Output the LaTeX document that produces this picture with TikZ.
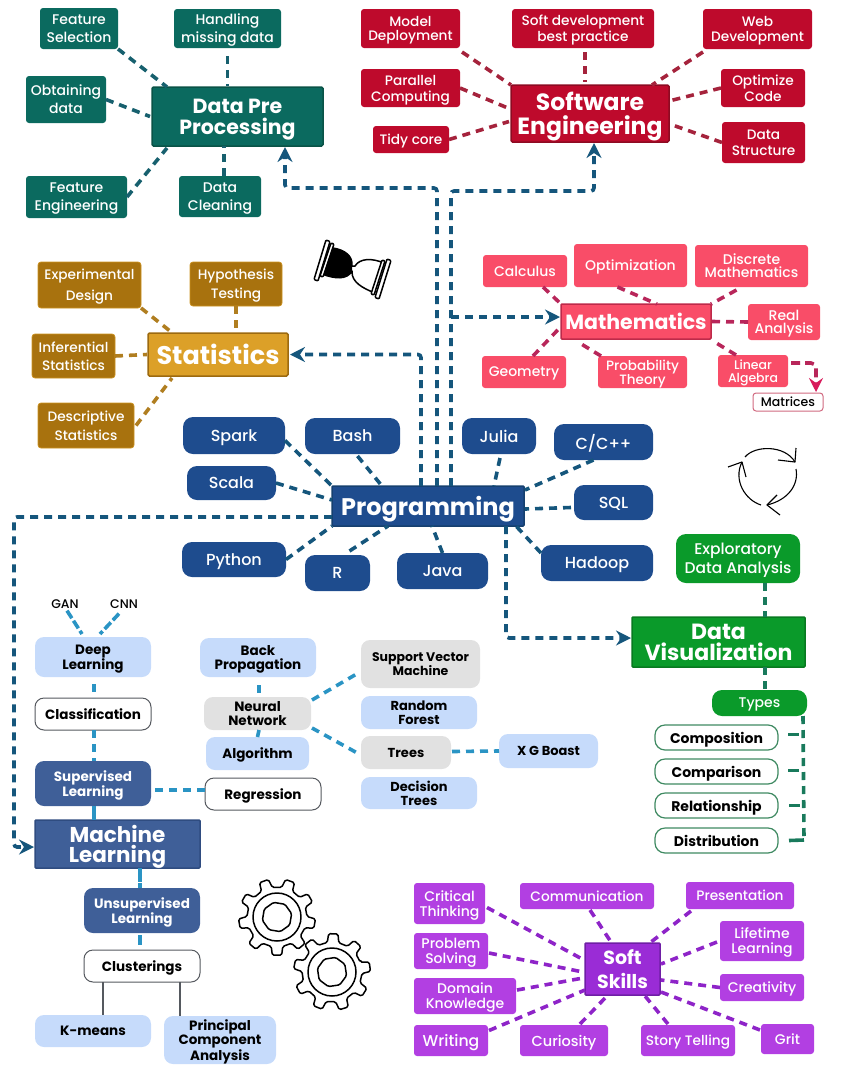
\documentclass[tikz,border=0pt]{standalone}
\usepackage{fontspec}
\setmainfont{Poppins Medium}[BoldFont=Poppins Bold]
\usetikzlibrary{arrows.meta,calc}
\definecolor{teal1}{HTML}{0B6A5F}\definecolor{teal2}{HTML}{0A5347}\definecolor{tealline}{HTML}{17606E}
\definecolor{red1}{HTML}{BE0A2C}\definecolor{red2}{HTML}{8E0A22}\definecolor{redline}{HTML}{A5233C}
\definecolor{gold1}{HTML}{DCA028}\definecolor{gold2}{HTML}{A8720E}\definecolor{gold3}{HTML}{9C6A10}\definecolor{goldline}{HTML}{B07E20}
\definecolor{pink1}{HTML}{F94D68}\definecolor{pink2}{HTML}{BE2A4A}\definecolor{pinkline}{HTML}{B8265A}\definecolor{pinkarrow}{HTML}{D81B5B}
\definecolor{navy1}{HTML}{1E4C8E}\definecolor{navy2}{HTML}{16406F}\definecolor{navyline}{HTML}{15567C}
\definecolor{green1}{HTML}{0A9A2A}\definecolor{green2}{HTML}{087A20}\definecolor{greenline}{HTML}{197A5C}\definecolor{greenring}{HTML}{3F8A62}
\definecolor{steel1}{HTML}{3F5F98}\definecolor{steel2}{HTML}{2F4C80}\definecolor{sky}{HTML}{C6DBFB}\definecolor{gray1}{HTML}{E1E1E1}\definecolor{skyline}{HTML}{2A94C4}\definecolor{ringgray}{HTML}{55595F}
\definecolor{purple1}{HTML}{B23FE2}\definecolor{purple2}{HTML}{9A2CD6}\definecolor{purple3}{HTML}{6F1FA5}\definecolor{purpleline}{HTML}{8E24C8}
\def\bxfont{}
\tikzset{
 ofs/.style args={#1,#2}{shift={(#1,#2)}},
 heavy/.code={\def\bxfont{\bfseries}},
 base/.style={inner sep=0pt,outer sep=0pt,align=center,text=white,text depth=-1pt},
 tealbox/.style={base,fill=teal1,rounded corners=3pt},
 tealmain/.style={base,heavy,fill=teal1,draw=teal2,line width=1.5pt,rounded corners=1.5pt},
 redbox/.style={base,fill=red1,rounded corners=3pt},
 redmain/.style={base,heavy,fill=red1,draw=red2,line width=1.5pt,rounded corners=1.5pt},
 goldbox/.style={base,fill=gold2,draw=gold1!70!gold2,line width=.7pt,rounded corners=3pt},
 goldmain/.style={base,heavy,fill=gold1,draw=gold3,line width=1.5pt,rounded corners=1.5pt},
 pinkbox/.style={base,fill=pink1,rounded corners=3pt},
 pinkmain/.style={base,heavy,fill=pink1,draw=pink2,line width=1.5pt,rounded corners=1pt},
 matrixbox/.style={base,fill=white,draw=pink2!70,line width=1pt,rounded corners=3pt,text=black},
 navybox/.style={base,fill=navy1,rounded corners=10pt},
 navymain/.style={base,heavy,fill=navy1,draw=navy2,line width=1.5pt,rounded corners=1pt},
 greenbox/.style={base,fill=green1,rounded corners=10pt},
 greenmain/.style={base,heavy,fill=green1,draw=green2,line width=1.5pt,rounded corners=1pt},
 ringbox/.style={base,heavy,fill=white,draw=greenring,line width=1.2pt,rounded corners=10pt,text=black},
 steelbox/.style={base,heavy,fill=steel1,rounded corners=9pt},
 steelmain/.style={base,heavy,fill=steel1,draw=steel2,line width=1.5pt,rounded corners=1pt},
 skybox/.style={base,heavy,fill=sky,rounded corners=9pt,text=black},
 graybox/.style={base,heavy,fill=gray1,rounded corners=9pt,text=black},
 whitebox/.style={base,heavy,fill=white,draw=ringgray,line width=1pt,rounded corners=9pt,text=black},
 purplebox/.style={base,fill=purple1,rounded corners=3pt},
 purplemain/.style={base,heavy,fill=purple2,draw=purple3,line width=1.5pt,rounded corners=1pt},
 link/.style={line width=3.6pt,dash pattern=on 8pt off 6pt,line cap=butt},
 tl/.style={link,draw=tealline}, rl/.style={link,draw=redline}, gl/.style={link,draw=goldline},
 pl/.style={link,draw=pinkline}, nl/.style={link,draw=navyline}, vl/.style={link,draw=greenline},
 sl/.style={link,draw=skyline}, ul/.style={link,draw=purpleline},
 flow/.style={nl,rounded corners=3pt,-{Stealth[length=15pt,width=15pt,inset=5pt]}},
 icon/.style={draw=black,line width=1.5pt,line join=round},
}
\newcommand\bx[9][]{\node[#1,minimum width={(#5-#3)*1pt},minimum height={(#6-#4)*1pt},font=\bxfont\fontsize{#7}{#8}\selectfont] (#2) at ({(#3+#5)/2},{(#4+#6)/2}) {#9};}
\newcommand\gearicon[1]{%
 \draw[icon,rounded corners=1.6pt,fill=white] ({#1-11}:30)
 \foreach \a in {0,40,...,320}{ -- ({#1+\a-11}:30) -- ({#1+\a-7}:38.5) -- ({#1+\a+7}:38.5) -- ({#1+\a+11}:30)} -- cycle;
 \draw[icon] (0,0) circle (24);
 \draw[icon,rounded corners=1.5pt] ({#1+22}:15) \foreach \a in {45,90,...,315}{ -- ({#1+22+\a}:15)} -- cycle;
}
\begin{document}
\begin{tikzpicture}[x=1pt,y=-1pt]
\useasboundingbox (0,0) rectangle (841,1074);
% ---------- Data pre processing
\bx[tealmain]{dp}{152}{87}{323}{146}{20.5}{21}{Data Pre\\Processing}
\bx[tealbox]{fs}{40}{8}{118}{49}{14}{18}{Feature\\Selection}
\bx[tealbox]{hm}{174}{9}{281}{48}{14}{18}{Handling\\missing data}
\bx[tealbox]{ob}{26}{76}{106}{123}{14}{18}{Obtaining\\data}
\bx[tealbox]{fe}{26}{176}{127}{218}{14}{18}{Feature\\Engineering}
\bx[tealbox]{dc}{179}{176}{261}{217}{14}{18}{Data\\Cleaning}
\draw[tl] (fs.south east) -- ([ofs={15,0}]dp.north west);
\draw[tl,shorten <=8pt] (hm.south) -- ([ofs={-10,-1}]dp.north);
\draw[tl] (ob.east) -- ([ofs={-2,0}]dp.west);
\draw[tl] (fe.east) -- ([ofs={15,2}]dp.south west);
\draw[tl] ([ofs={4,0}]dc.north) -- ([ofs={-13.5,0}]dp.south);
% ---------- Software engineering
\bx[redmain]{se}{511}{85}{669}{142}{23.5}{24}{Software\\Engineering}
\bx[redbox]{md}{361}{9}{460}{48}{13.7}{14.5}{Model\\Deployment}
\bx[redbox]{sd}{512}{9}{654}{48}{13.7}{16}{Soft development\\best practice}
\bx[redbox]{wd}{703}{9}{812}{49}{13.7}{14.5}{Web\\Development}
\bx[redbox]{pc}{361}{69}{460}{107}{13.7}{16}{Parallel\\Computing}
\bx[redbox]{tc}{373}{126}{449}{153}{13.7}{16}{Tidy core}
\bx[redbox]{oc}{721}{69}{805}{107}{13.7}{16}{Optimize\\Code}
\bx[redbox]{sc2}{722}{122}{805}{163}{13.7}{16}{Data\\Structure}
\draw[rl] ([ofs={2,4}]md.south east) -- (se.north west);
\draw[rl] ([ofs={2,4}]sd.south) -- ([ofs={-5,-3}]se.north);
\draw[rl] ([ofs={0,3}]wd.south west) -- ([ofs={-17,0}]se.north east);
\draw[rl] (pc.east) -- ([ofs={-2,-5}]se.west);
\draw[rl] (tc.east) -- ([ofs={-2,8}]se.west);
\draw[rl] (oc.west) -- ([ofs={2,-13}]se.east);
\draw[rl] (sc2.west) -- ([ofs={2,11}]se.east);
% ---------- Statistics
\bx[goldmain]{st}{148}{333}{288}{376}{25.5}{26}{Statistics}
\bx[goldbox]{ed}{38}{262}{141}{308}{13.7}{21}{Experimental\\Design}
\bx[goldbox]{ht}{190}{262}{282}{306}{13.7}{19}{Hypothesis\\Testing}
\bx[goldbox]{is}{32}{334}{115}{378}{13.7}{18}{Inferential\\Statistics}
\bx[goldbox]{dt}{38}{403}{134}{448}{13.7}{19}{Descriptive\\Statistics}
\draw[gl] (ed.south east) -- ([ofs={22,-2}]st.north west);
\draw[gl] (ht.south) -- ([ofs={18,-1}]st.north);
\draw[gl] (is.east) -- ([ofs={-1,0}]st.west);
\draw[gl] ([ofs={2,0}]dt.east) -- ([ofs={24,2}]st.south west);
% ---------- Mathematics
\bx[pinkmain]{ma}{561}{304}{711}{339}{20.5}{22}{Mathematics}
\bx[pinkbox]{ca}{483}{255}{567}{287}{14}{15}{Calculus}
\bx[pinkbox]{op}{574}{244}{687}{287}{14}{15}{Optimization}
\bx[pinkbox]{dm}{695}{245}{808}{287}{14}{13}{Discrete\\Mathematics}
\bx[pinkbox]{ra}{748}{304}{820}{340}{14}{13}{Real\\Analysis}
\bx[pinkbox]{ge}{482}{356}{566}{388}{14}{15}{Geometry}
\bx[pinkbox]{pt}{598}{356}{687}{388}{13.5}{14}{Probability\\Theory}
\bx[pinkbox]{la}{718}{355}{788}{387}{12.5}{13.5}{Linear\\Algebra}
\bx[matrixbox]{mt}{753}{393}{823}{411}{12.5}{14}{Matrices}
\draw[pl] ([ofs={18,0}]ca.south) -- (ma.north west);
\draw[pl] ([ofs={-13,0}]op.south) -- ([ofs={21,0}]ma.north);
\draw[pl] ([ofs={-15,3}]dm.south) -- (ma.north east);
\draw[pl] (ra.west) -- ([ofs={1,0}]ma.east);
\draw[pl] ([ofs={9,0}]ge.north) -- ([ofs={0,5}]ma.west);
\draw[pl] ([ofs={3,0}]pt.north west) -- ([ofs={17,3}]ma.south west);
\draw[pl] ([ofs={-17,0}]la.north) -- ([ofs={2,2}]ma.south east);
\draw[link,draw=pinkline,rounded corners=5pt,dash pattern=on 9pt off 5pt,-{Stealth[length=14pt,width=14pt,inset=5pt,pinkarrow]}] ([ofs={3,-8}]la.east) -| ([ofs={28,-1}]mt.north);
% ---------- Programming
\bx[navymain]{pg}{332}{486}{524}{526}{24}{27}{Programming}
\bx[navybox]{sp}{183}{417}{285}{454}{16}{17}{Spark}
\bx[navybox]{ba}{305}{418}{400}{454}{16}{17}{Bash}
\bx[navybox]{ju}{462}{418}{536}{454}{16}{17}{Julia}
\bx[navybox]{cc}{554}{424}{653}{460}{16}{17}{C/C++}
\bx[navybox]{sa}{187}{466}{276}{500}{16}{17}{Scala}
\bx[navybox]{sq}{574}{485}{653}{520}{16}{17}{SQL}
\bx[navybox]{py}{182}{542}{286}{577}{16}{17}{Python}
\bx[navybox]{rr}{305}{555}{370}{591}{16}{17}{R}
\bx[navybox]{ja}{397}{553}{488}{589}{16}{17}{Java}
\bx[navybox]{ha}{541}{545}{653}{581}{16}{17}{Hadoop}
\draw[nl] ([ofs={0,5}]sp.east) -- (pg.north west);
\draw[nl] ([ofs={5,2}]ba.south) -- ([ofs={-46,0}]pg.north);
\draw[nl] ([ofs={1,4}]ju.south) -- ([ofs={66,0}]pg.north);
\draw[nl] ([ofs={-10,0}]cc.south) -- ([ofs={1,-16}]pg.east);
\draw[nl] (sa.east) -- ([ofs={0,-6}]pg.west);
\draw[nl] ([ofs={-3,5}]sq.west) -- ([ofs={1,3}]pg.east);
\draw[nl] (py.east) -- (pg.south west);
\draw[nl] ([ofs={12,-4}]rr.north) -- ([ofs={-40,0}]pg.south);
\draw[nl] (ja.north) -- ([ofs={4,0}]pg.south);
\draw[nl] ([ofs={0,-10}]ha.west) -- ([ofs={88,0}]pg.south);
% ---------- Data visualization
\bx[greenmain]{dv}{632}{617}{805}{667}{22}{21}{Data\\Visualization}
\bx[greenbox]{ea}{676}{534}{800}{583}{15.5}{19}{Exploratory\\Data Analysis}
\bx[greenbox]{ty}{712}{690}{807}{716}{14}{16}{Types}
\bx[ringbox]{co}{655}{725}{778}{750}{14}{16}{Composition}
\bx[ringbox]{cp}{655}{759}{778}{784}{14}{16}{Comparison}
\bx[ringbox]{re}{655}{793}{778}{818}{14}{16}{Relationship}
\bx[ringbox]{di}{655}{828}{778}{853}{14}{16}{Distribution}
\draw[vl] ([ofs={27,0}]ea.south) -- ([ofs={46.5,0}]dv.north);
\draw[vl] ([ofs={46.5,0}]dv.south) -- ([ofs={5.5,0}]ty.north);
\coordinate (tycorner) at (804,840);
\draw[vl] ([ofs={-4,0}]ty.south east) -- (tycorner);
\draw[vl,dash pattern=on 11pt off 20pt] ([ofs={10,-3}]co.east) -- ([ofs={25,-3}]co.east);
\draw[vl,dash pattern=on 11pt off 20pt] ([ofs={10,-1}]cp.east) -- ([ofs={25,-1}]cp.east);
\draw[vl,dash pattern=on 11pt off 20pt] ([ofs={11,0}]re.east) -- ([ofs={25,0}]re.east);
\draw[vl,dash pattern=on 15pt off 20pt] ([ofs={11,0}]di.east) -- (tycorner);
% ---------- Machine learning
\bx[steelmain]{ml}{35}{820}{200}{868}{21.5}{20}{Machine\\Learning}
\bx[steelbox]{sv}{35}{761}{151}{806}{13.5}{15}{Supervised\\Learning}
\bx[whitebox]{cl}{35}{698}{151}{730}{13.5}{15}{Classification}
\bx[skybox]{dl}{35}{637}{151}{677}{13.5}{14}{Deep\\Learning}
\node[font=\fontsize{12.5}{14}\selectfont,inner sep=0pt] (ga) at (65,604) {GAN};
\node[font=\fontsize{12.5}{14}\selectfont,inner sep=0pt] (cn) at (124,604) {CNN};
\bx[whitebox]{rg}{205}{778}{321}{810}{13.5}{15}{Regression}
\bx[skybox]{bp}{200}{638}{316}{677}{13.5}{14}{Back\\Propagation}
\bx[graybox]{nn}{204}{697}{311}{730}{13.5}{14}{Neural\\Network}
\bx[skybox]{al}{206}{737}{309}{770}{13.5}{15}{Algorithm}
\bx[graybox]{vm}{361}{640}{480}{688}{12.5}{14}{Support Vector\\Machine}
\bx[skybox]{rf}{361}{696}{477}{729}{13}{14}{Random\\Forest}
\bx[graybox]{tr}{361}{736}{451}{769}{13}{15}{Trees}
\bx[skybox]{dd}{361}{777}{477}{809}{13}{14}{Decision\\Trees}
\bx[skybox]{xg}{499}{734}{598}{768}{13}{15}{X G Boast}
\draw[sl,dash pattern=on 9pt off 3pt] ([ofs={2,2}]ga.south) -- ([ofs={-11,-3}]dl.north);
\draw[sl,dash pattern=on 9pt off 3pt] ([ofs={-5,5}]cn.south) -- ([ofs={7,-3}]dl.north);
\draw[sl] ([ofs={1,7}]dl.south) -- ([ofs={1,0}]cl.north);
\draw[sl] ([ofs={1,0}]cl.south) -- ([ofs={1,0}]sv.north);
\draw[sl,dash pattern=on 14pt off 1pt] ([ofs={1,0}]sv.south) -- ([ofs={-23.5,0}]ml.north);
\draw[sl] ([ofs={4,6.5}]sv.east) -- ([ofs={0,-4}]rg.west);
\draw[sl] ([ofs={1,8}]bp.south) -- ([ofs={1.5,-1}]nn.north);
\draw[sl,dash pattern=on 8pt off 1pt] ([ofs={1.5,0}]nn.south) -- (al.north);
\draw[sl] ([ofs={1,-13.5}]nn.east) -- ([ofs={-1,8}]vm.west);
\draw[sl] ([ofs={1,14.5}]nn.east) -- ([ofs={-1,2}]tr.west);
\draw[sl] ([ofs={1,-1}]tr.east) -- (xg.west);
\bx[steelbox]{us}{84}{888}{200}{933}{13.5}{15}{Unsupervised\\Learning}
\bx[whitebox]{kl}{84}{950}{200}{982}{13.5}{15}{Clusterings}
\bx[skybox]{km}{35}{1015}{151}{1047}{13.5}{15}{K-means}
\bx[skybox]{ca2}{164}{1016}{276}{1064}{13.5}{14}{Principal\\Component\\Analysis}
\draw[sl,dash pattern=on 14pt off 1pt] ([ofs={22.5,0}]ml.south) -- ([ofs={-2,0}]us.north);
\draw[sl,dash pattern=on 10pt off 6pt] ([ofs={-2,2}]us.south) -- ([ofs={-2,0}]kl.north);
\draw[draw=ringgray,line width=1.5pt] ([ofs={-39,0}]kl.south) -- ([ofs={10,0}]km.north);
\draw[draw=ringgray,line width=1.5pt] ([ofs={38,0}]kl.south) -- ([ofs={-40,0}]ca2.north);
% ---------- Soft skills
\bx[purplemain]{ss}{585}{943}{660}{995}{19}{24}{Soft\\Skills}
\bx[purplebox]{cr}{414}{883}{485}{924}{14}{15}{Critical\\Thinking}
\bx[purplebox]{cm}{520}{883}{654}{909}{13.7}{15}{Communication}
\bx[purplebox]{pr}{686}{882}{794}{909}{13.7}{15}{Presentation}
\bx[purplebox]{ps}{414}{933}{488}{969}{14}{15}{Problem\\Solving}
\bx[purplebox]{ll}{720}{921}{804}{961}{14}{15}{Lifetime\\Learning}
\bx[purplebox]{dk}{414}{978}{516}{1014}{14}{15}{Domain\\Knowledge}
\bx[purplebox]{cv}{720}{974}{804}{1001}{14}{15}{Creativity}
\bx[purplebox]{wr}{414}{1025}{488}{1056}{15.7}{17}{Writing}
\bx[purplebox]{cu}{520}{1025}{608}{1056}{14.5}{15}{Curiosity}
\bx[purplebox]{sy}{641}{1025}{735}{1056}{13.7}{15}{Story Telling}
\bx[purplebox]{gr}{761}{1024}{814}{1054}{14}{15}{Grit}
\draw[ul] ([ofs={2,4}]cr.east) -- ([ofs={-1,-9}]ss.west);
\draw[ul] ([ofs={3,1}]cm.south) -- ([ofs={-11.5,-1}]ss.north);
\draw[ul] ([ofs={5,2}]pr.south west) -- ([ofs={-9,-1}]ss.north east);
\draw[ul] ([ofs={1,2}]ps.east) -- ([ofs={-2,3}]ss.west);
\draw[ul] ([ofs={-3,1}]ll.west) -- ([ofs={1,-5}]ss.east);
\draw[ul] ([ofs={1,-6}]dk.east) -- ([ofs={-2,9}]ss.west);
\draw[ul] (cv.west) -- ([ofs={1,11}]ss.east);
\draw[ul] ([ofs={1,-10}]wr.east) -- ([ofs={0,-5}]ss.south west);
\draw[ul] ([ofs={16,-1}]cu.north) -- ([ofs={-15.5,1}]ss.south);
\draw[ul] ([ofs={-20,-1}]sy.north) -- ([ofs={22.5,1}]ss.south);
\draw[ul] ([ofs={-1,-9}]gr.west) -- ([ofs={1,23}]ss.east);
% ---------- Flow from Programming
\coordinate (dpcorner) at (437,188);
\coordinate (secorner) at (451,191);
\coordinate (majoin) at (451,317);
\coordinate (mlcorner) at (14,517);
\draw[flow] ([ofs={9,0}]pg.north) -- (dpcorner) -| ([ofs={47.5,1}]dp.south);
\draw[flow] ([ofs={23,0}]pg.north) -- (secorner) -| ([ofs={4,1}]se.south);
\draw[flow] (majoin) -- ([ofs={-1,-4.5}]ma.west);
\draw[flow] ([ofs={-7,0}]pg.north) |- ([ofs={2,0}]st.east);
\draw[flow] ([ofs={0,11}]pg.west) -- (mlcorner) |- ([ofs={-1,3}]ml.west);
\draw[flow] ([ofs={78,0}]pg.south) |- ([ofs={-1,-4}]dv.west);
% ---------- Hourglass icon
\fill[black] (333,248) .. controls (345,250) and (353,256) .. (352,266) -- (352,271) .. controls (347,280) and (335,279) .. (322,274) -- cycle;
\draw[icon] (333,248) .. controls (345,250) and (353,256) .. (352,266) -- (355,266) .. controls (360,258) and (372,258) .. (384,263);
\draw[icon] (322,274) .. controls (335,279) and (347,280) .. (352,271) -- (352,272) .. controls (352,282) and (362,288) .. (375,293);
\draw[icon,fill=white,rounded corners=1pt] (326,240) -- (330,241.5) -- (318,281) -- (314,279.5) -- cycle;
\draw[icon,fill=white,rounded corners=1pt] (331,243) -- (334,244) -- (323,277) -- (320,276) -- cycle;
\draw[icon,fill=white,rounded corners=1pt] (387,259) -- (391,260.5) -- (379,299) -- (375,297.5) -- cycle;
\draw[icon,fill=white,rounded corners=1pt] (382,260) -- (385,261) -- (374,295) -- (371,294) -- cycle;
% ---------- Cycle icon
\draw[icon,line width=1.1pt] (745,457) .. controls (755,445) and (785,445) .. (795,462);
\draw[icon,line width=1.1pt] (796,448) -- (795,462) -- (778,460);
\draw[icon,line width=1.1pt] (796,469) .. controls (799,485) and (788,500) .. (767,505);
\draw[icon,line width=1.1pt] (777,495) -- (767,505) -- (780,515);
\draw[icon,line width=1.1pt] (761,505) .. controls (745,500) and (733,480) .. (742,462);
\draw[icon,line width=1.1pt] (728,467) -- (742,462) -- (746,477);
% ---------- Gears
\begin{scope}[shift={(277,917)}]\gearicon{10}\end{scope}
\begin{scope}[shift={(332,972)}]\gearicon{-8}\end{scope}
\end{tikzpicture}
\end{document}
